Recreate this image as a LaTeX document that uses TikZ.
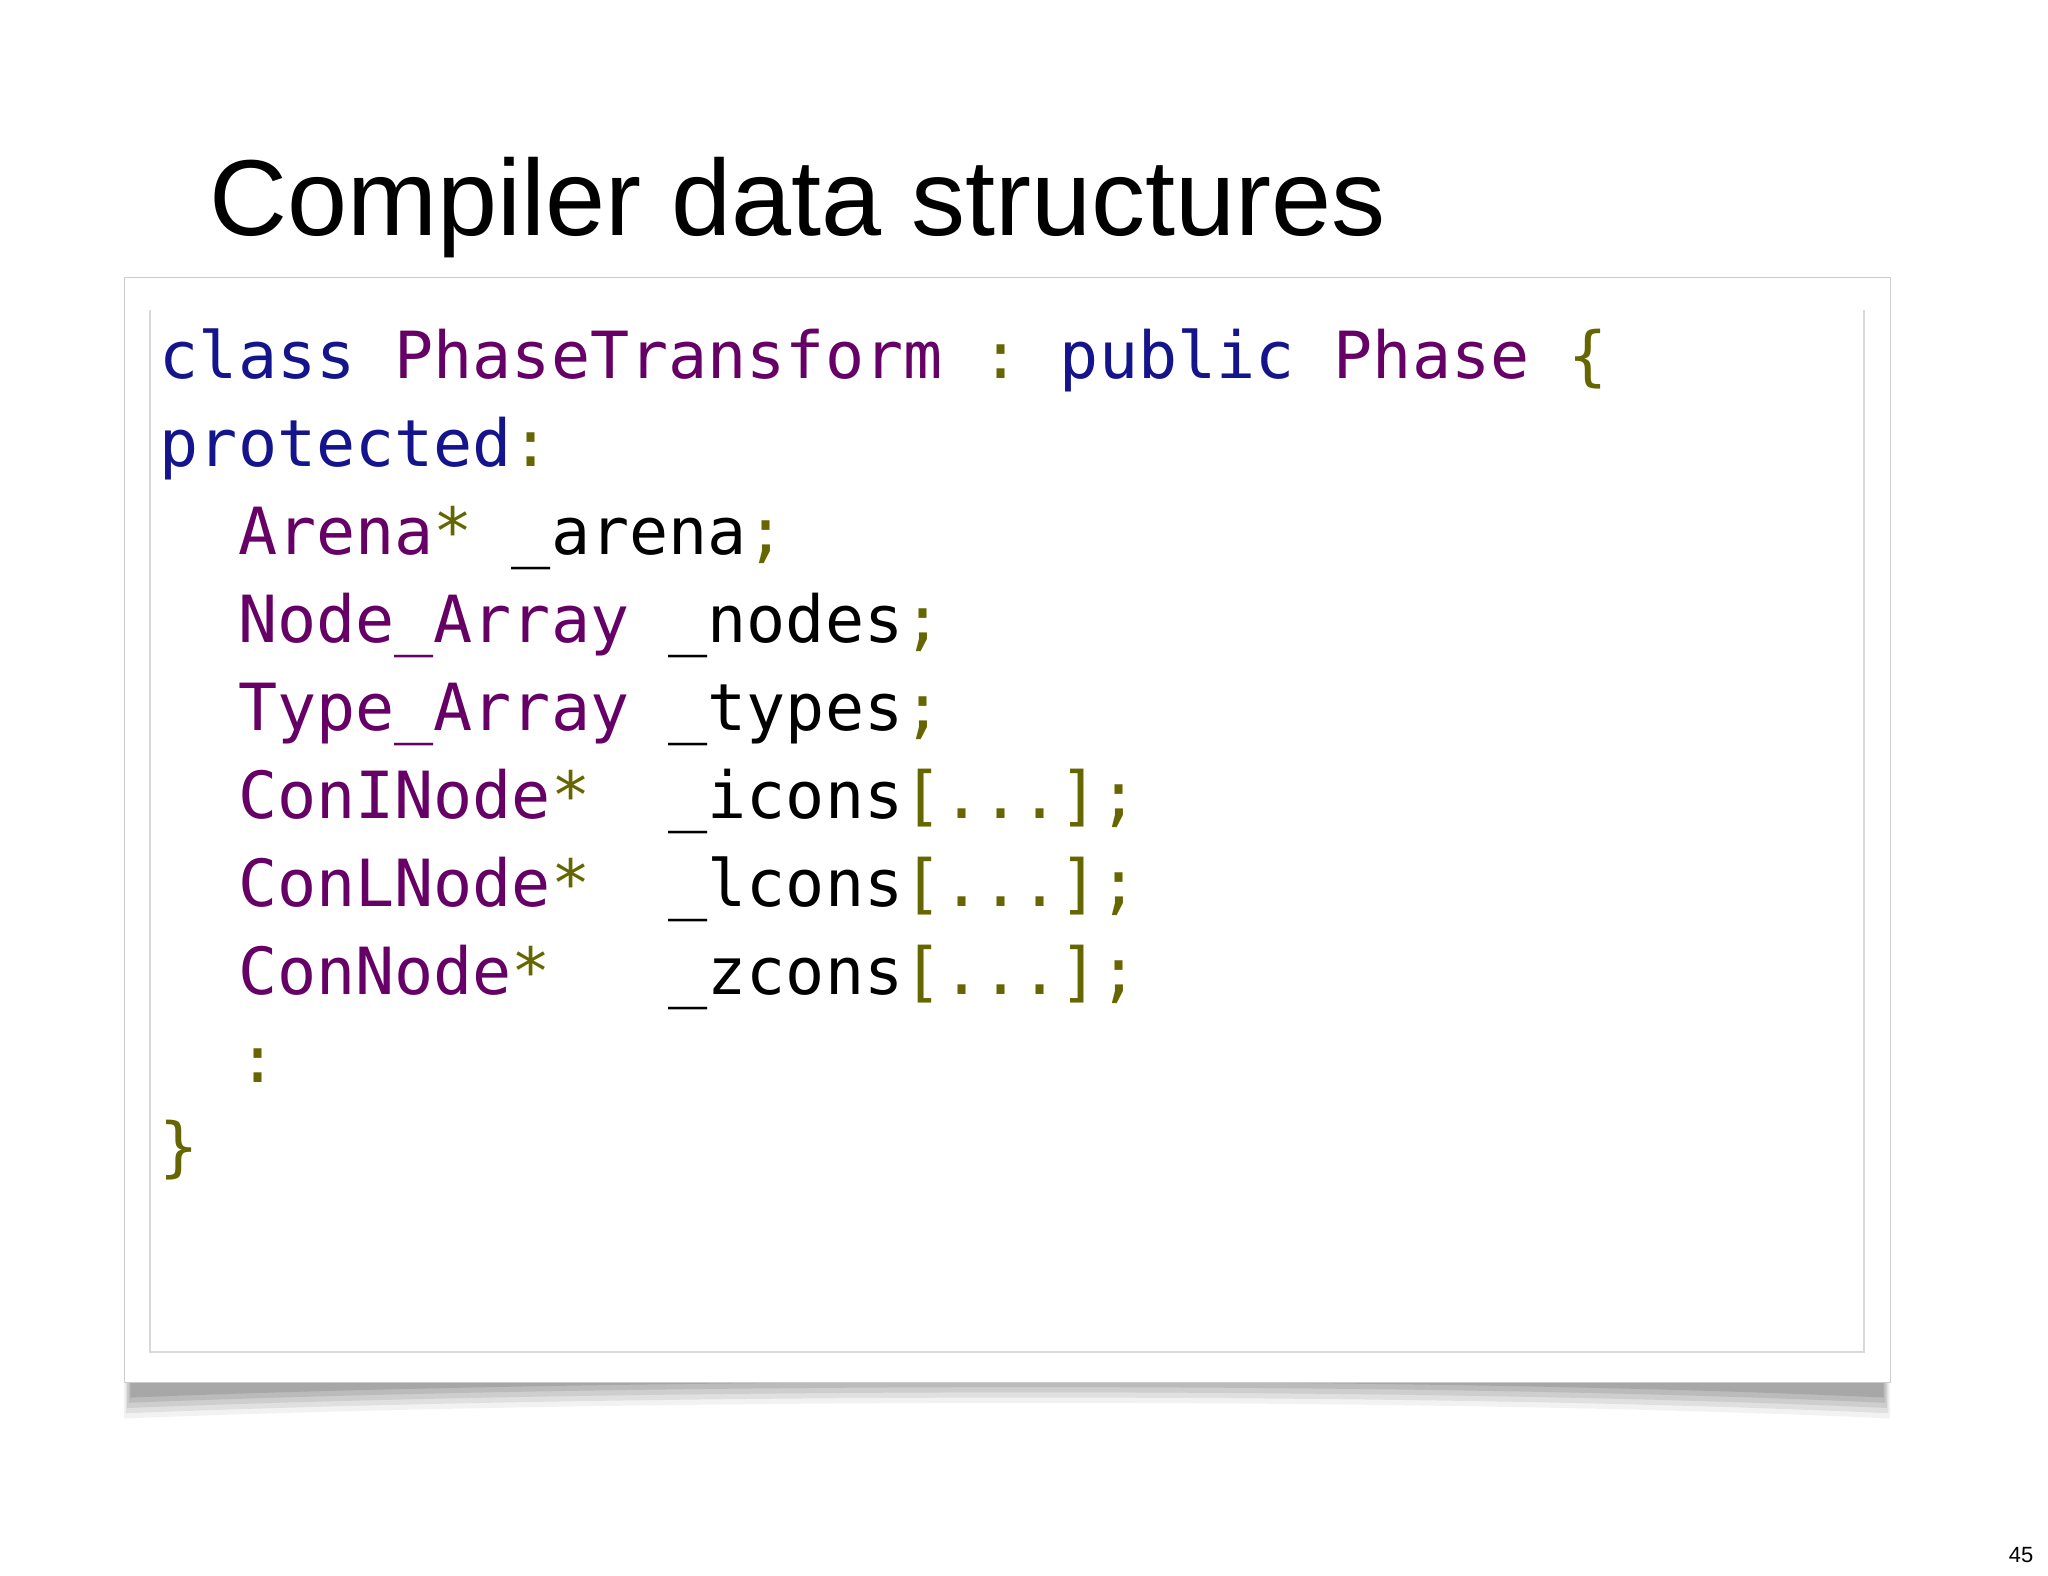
\documentclass[tikz,border=0pt]{standalone}
\usepackage{fontspec}
\setmainfont{Liberation Sans}
\newfontfamily\codefont{DejaVu Sans Mono}
\definecolor{kw}{HTML}{14148C}
\definecolor{ty}{HTML}{660066}
\definecolor{pu}{HTML}{666600}
\begin{document}
\begin{tikzpicture}[x=0.653pt,y=-0.653pt,
  codeline/.style={anchor=base west,inner sep=0pt,font=\codefont\fontsize{32.5}{36}\selectfont},
  frameline/.style={draw=black!15,line width=0.8pt}]
\useasboundingbox (0,0) rectangle (1568,1206);
\fill[white] (0,0) rectangle (1568,1206);
% shadow
\foreach \i/\o in {0/0.05,4/0.07,8/0.08,12/0.09,16/0.1}{
  \fill[black,opacity=\o] (95+\i*0.3,1050) -- (1447-\i*0.3,1050) -- (1447-\i*0.3,1086-\i) .. controls (1100,1070-\i) and (500,1070-\i) .. (95+\i*0.3,1086-\i) -- cycle;}
\node[draw=black!20,fill=white,minimum width=1352*0.653pt,minimum height=846*0.653pt,inner sep=0pt,anchor=north west] (box) at (95,212) {};
\draw[frameline] (115,237) coordinate (tl) -- (115,1035) coordinate (bl) -- (1427,1035) coordinate (br) -- (1427,237) coordinate (tr);
\node[anchor=base west,inner sep=0pt,font=\fontsize{54}{60}\selectfont] (title) at (160,180) {Compiler data structures};
\node[anchor=base east,inner sep=0pt,font=\fontsize{11}{13}\selectfont] (pg) at (1557,1196) {45};
\node[codeline] (l1) at (122,290) {\color{kw}class\ \color{ty}PhaseTransform\ \color{pu}:\ \color{kw}public\ \color{ty}Phase\ \color{pu}\{};
\node[codeline] (l2) at (122,357.3) {\color{kw}protected\color{pu}:};
\node[codeline] (l3) at (122,424.6) {\ \ \color{ty}Arena\color{pu}*\ \color{black}\_arena\color{pu};};
\node[codeline] (l4) at (122,491.9) {\ \ \color{ty}Node\_Array\ \color{black}\_nodes\color{pu};};
\node[codeline] (l5) at (122,559.2) {\ \ \color{ty}Type\_Array\ \color{black}\_types\color{pu};};
\node[codeline] (l6) at (122,626.5) {\ \ \color{ty}ConINode\color{pu}*\ \ \color{black}\_icons\color{pu}[...];};
\node[codeline] (l7) at (122,693.8) {\ \ \color{ty}ConLNode\color{pu}*\ \ \color{black}\_lcons\color{pu}[...];};
\node[codeline] (l8) at (122,761.1) {\ \ \color{ty}ConNode\color{pu}*\ \ \ \color{black}\_zcons\color{pu}[...];};
\node[codeline] (l9) at (122,828.4) {\ \ \color{pu}:};
\node[codeline] (l10) at (122,895.7) {\color{pu}\}};
\end{tikzpicture}
\end{document}
